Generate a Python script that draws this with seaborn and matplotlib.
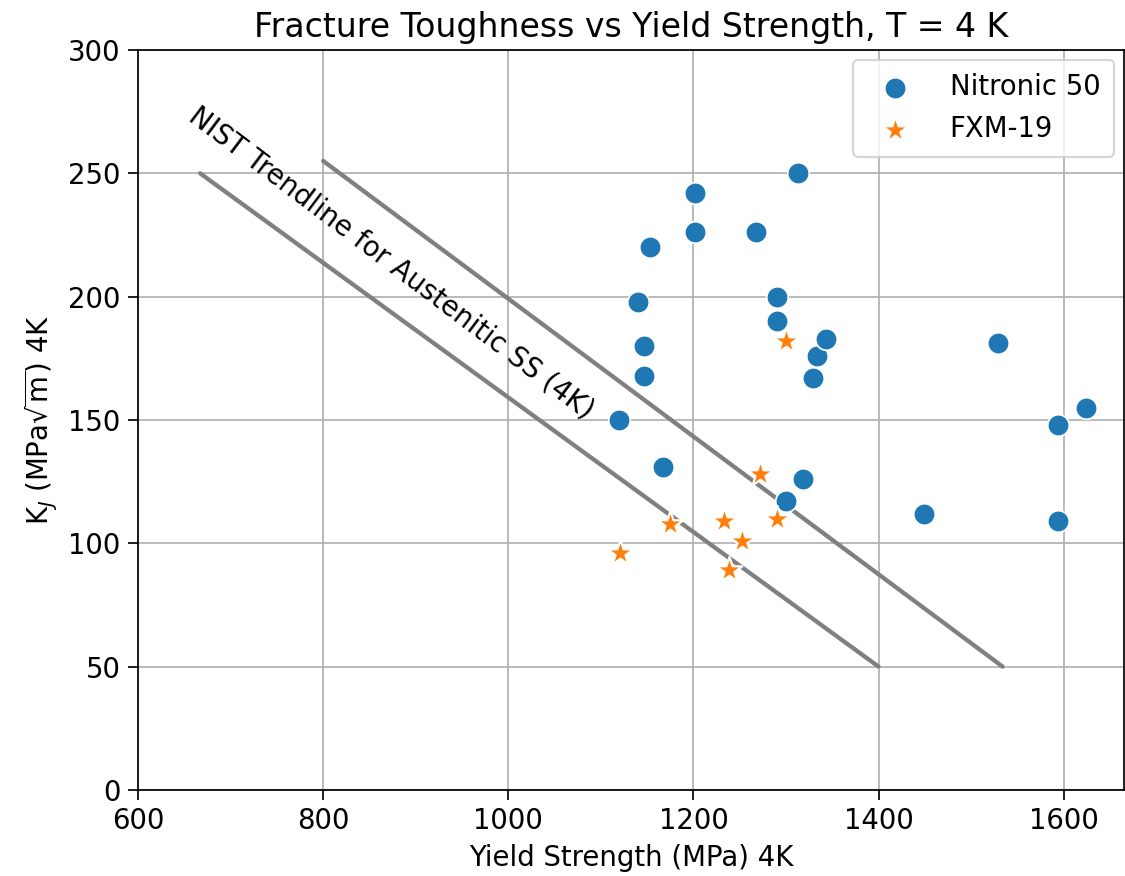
import matplotlib
matplotlib.use("Agg")
import matplotlib.pyplot as plt
import seaborn as sns
import pandas as pd

nitronic_ys = [1120, 1140, 1147, 1147, 1153, 1167, 1202, 1202, 1268, 1290, 1290, 1313,
               1300, 1318, 1329, 1333, 1343, 1449, 1529, 1594, 1594, 1624]
nitronic_kj = [150, 198, 180, 168, 220, 131, 242, 226, 226, 200, 190, 250,
               117, 126, 167, 176, 183, 112, 181, 148, 109, 155]

fxm_ys = [1121, 1175, 1233, 1238, 1253, 1272, 1290, 1300]
fxm_kj = [96, 108, 109, 89, 101, 128, 110, 182]

trend_lower_x = [667, 1400]
trend_lower_y = [250, 50]
trend_upper_x = [800, 1534]
trend_upper_y = [255, 50]

trend_label = "NIST Trendline for Austenitic SS (4K)"

sns.set_style("ticks")
plt.rcParams['font.family'] = ['DejaVu Sans']
plt.rcParams['text.color'] = 'black'
plt.rcParams['axes.labelcolor'] = 'black'
plt.rcParams['xtick.color'] = 'black'
plt.rcParams['ytick.color'] = 'black'

fig = plt.figure(figsize=(1125/155, 876/155), dpi=155)
ax = fig.add_axes([0.1227, 0.0982, 0.8763, 0.8448])

df_n = pd.DataFrame({"x": nitronic_ys, "y": nitronic_kj})
df_f = pd.DataFrame({"x": fxm_ys, "y": fxm_kj})

ax.plot(trend_lower_x, trend_lower_y, color="gray", lw=2, zorder=2)
ax.plot(trend_upper_x, trend_upper_y, color="gray", lw=2, zorder=2)

sns.scatterplot(data=df_n, x="x", y="y", ax=ax, s=100, marker="o", color="#1f77b4",
                label="Nitronic 50", zorder=3)
sns.scatterplot(data=df_f, x="x", y="y", ax=ax, s=160, marker="*", color="#ff7f0e",
                label="FXM-19", zorder=3)

ax.text(667, 279, trend_label, rotation=-37, rotation_mode="anchor",
        ha="left", va="top", fontsize=12.8, zorder=4)

ax.set_xlim(600, 1665)
ax.set_ylim(0, 300)
ax.set_xticks([600, 800, 1000, 1200, 1400, 1600])
ax.set_yticks([0, 50, 100, 150, 200, 250, 300])
ax.grid(True, color="#b0b0b0", lw=0.8)
ax.set_axisbelow(True)
for sp in ax.spines.values():
    sp.set_visible(True)
    sp.set_color("black")
ax.tick_params(labelsize=12.8, direction="out", length=4.5)
ax.set_xlabel("Yield Strength (MPa) 4K", fontsize=12.8, labelpad=4)
ax.set_ylabel(r"K$_J$ (MPa$\sqrt{\mathrm{m}}$) 4K", fontsize=12.8, labelpad=4)
ax.set_title("Fracture Toughness vs Yield Strength, T = 4 K", fontsize=15.4)
ax.legend(loc="upper right", fontsize=12.8, borderpad=0.5, handletextpad=1.0,
          borderaxespad=0.35)

fig.savefig("out.png", dpi=155)
